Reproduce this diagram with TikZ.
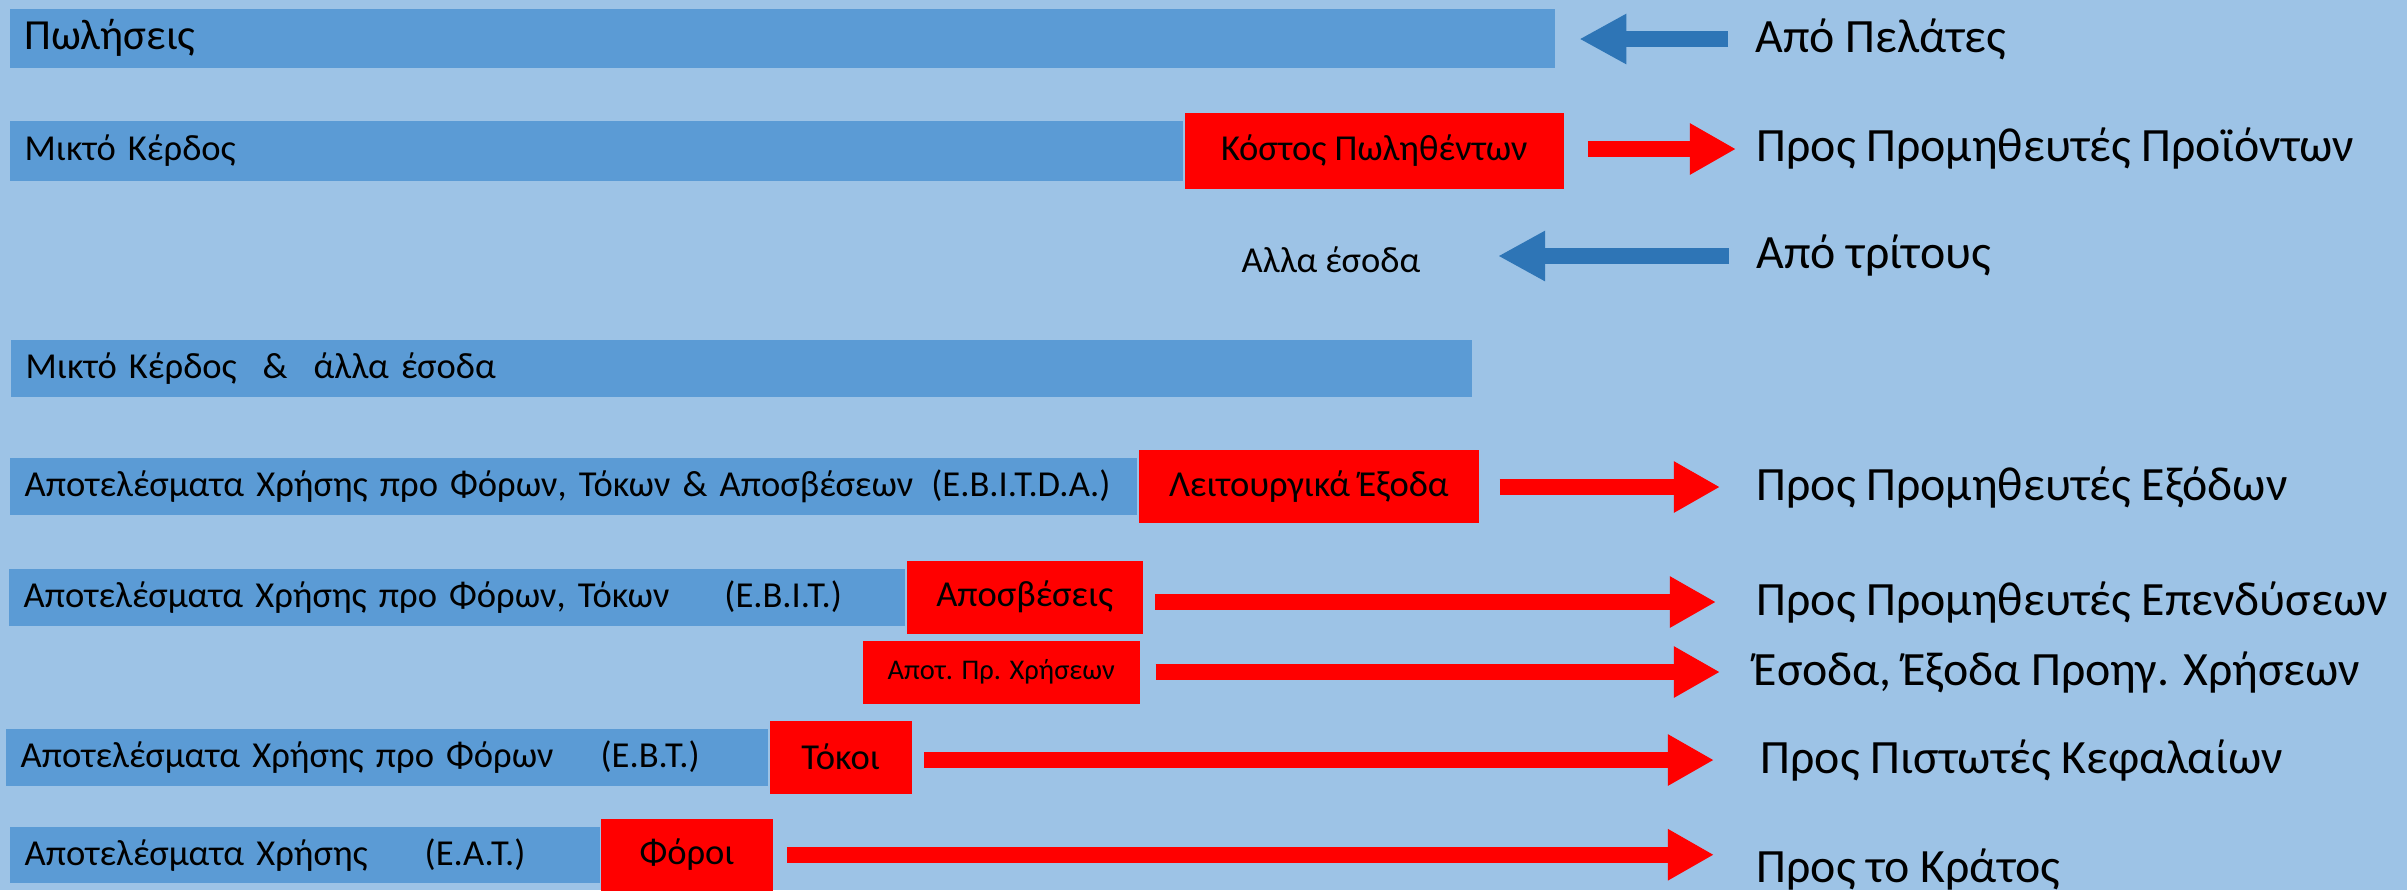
\documentclass[tikz,border=0pt]{standalone}
\usepackage{fontspec}
\setmainfont{Carlito}
\usetikzlibrary{positioning,arrows.meta}
\definecolor{bgblue}{HTML}{9DC3E6}
\definecolor{barblue}{HTML}{5B9BD5}
\definecolor{flowblue}{HTML}{2E75B6}

\begin{document}
\begin{tikzpicture}[x=0.01cm, y=-0.01cm,
    bar/.style={fill=barblue, anchor=north west, inner xsep=0.15cm, inner ysep=0pt,
      minimum height=0.57cm, align=left, font=\fontsize{10.4}{12}\selectfont},
    cost/.style={fill=red, inner sep=0pt, minimum height=0.73cm, align=center,
      font=\fontsize{10.4}{12}\selectfont},
    dest/.style={anchor=west, inner sep=0pt, font=\fontsize{13.6}{16}\selectfont},
    outflow/.style={red, line width=0.16cm, -{Triangle[length=0.46cm, width=0.48cm]},
      shorten <=0.13cm, shorten >=0.4cm},
    inflow/.style={flowblue, line width=0.16cm, -{Triangle[length=0.47cm, width=0.47cm]},
      shorten <=0.27cm}]
  \useasboundingbox (0,0) rectangle (2407,890);
  \fill[bgblue] (0,0) rectangle (2407,890);

  % sales and gross profit
  \node[bar, text width=15.14cm, minimum height=0.59cm, font=\fontsize{12.2}{14}\selectfont] (sales) at (9,8) {Πωλήσεις};
  \node[dest] (customers) at (1755,39) {Από Πελάτες};
  \draw[inflow, shorten >=0.24cm] (customers.west) -- (sales.east |- customers.west);

  \node[bar, text width=11.43cm, minimum height=0.60cm] (gross) at (9,120) {Μικτό Κέρδος};
  \node[cost, right=0pt of gross, minimum width=3.79cm, minimum height=0.76cm] (cogs) {Κόστος Πωληθέντων};
  \node[dest] (suppliers) at (1756,149) {Προς Προμηθευτές Προϊόντων};
  \draw[outflow, shorten <=0.23cm, shorten >=0.2cm] (cogs.east |- suppliers.west) -- (suppliers.west);

  % other income
  \node[inner sep=0pt, font=\fontsize{10.4}{12}\selectfont] (other) at (1331,260) {Αλλα έσοδα};
  \node[dest] (third) at (1756,256) {Από τρίτους};
  \draw[inflow, shorten >=0.77cm] (third.west) -- (other.east |- third.west);

  \node[bar, text width=14.30cm] (grossplus) at (10,339) {Μικτό Κέρδος\hspace{0.26cm}\&\hspace{0.26cm}άλλα έσοδα};

  % results and outflows
  \node[bar, text width=10.97cm] (ebitda) at (9,457) {Αποτελέσματα Χρήσης προ Φόρων, Τόκων \& Αποσβέσεων\hspace{0.18cm}(E.B.I.T.D.A.)};
  \node[cost, right=0pt of ebitda, minimum width=3.40cm] (opex) {Λειτουργικά Έξοδα};
  \node[dest] (expsup) at (1756,487) {Προς Προμηθευτές Εξόδων};
  \draw[outflow, shorten <=0.2cm, shorten >=0.36cm] (opex.east |- expsup.west) -- (expsup.west);

  \node[bar, text width=8.66cm] (ebit) at (8,568) {Αποτελέσματα Χρήσης προ Φόρων, Τόκων\hspace{0.55cm}(E.B.I.T.)};
  \node[cost, right=0pt of ebit, minimum width=2.36cm] (depr) {Αποσβέσεις};
  \node[dest] (invsup) at (1756,602) {Προς Προμηθευτές Επενδύσεων};
  \draw[outflow, shorten <=0.12cm] (depr.east |- invsup.west) -- (invsup.west);

  \node[cost, anchor=north west, minimum width=2.77cm, minimum height=0.63cm, font=\fontsize{8.1}{10}\selectfont] (prior) at (862,640) {Αποτ. Πρ. Χρήσεων};
  \node[dest] (priorres) at (1753,672) {Έσοδα, Έξοδα Προηγ. Χρήσεων};
  \draw[outflow, shorten <=0.15cm, shorten >=0.33cm] (prior.east |- priorres.west) -- (priorres.west);

  \node[bar, text width=7.32cm] (ebt) at (5,728) {Αποτελέσματα Χρήσης προ Φόρων\hspace{0.47cm}(E.B.T.)};
  \node[cost, right=0pt of ebt, minimum width=1.42cm] (interest) {Τόκοι};
  \node[dest] (lenders) at (1760,760) {Προς Πιστωτές Κεφαλαίων};
  \draw[outflow, shorten <=0.12cm, shorten >=0.46cm] (interest.east |- lenders.west) -- (lenders.west);

  \node[bar, text width=5.60cm, minimum height=0.56cm] (eat) at (9,826) {Αποτελέσματα Χρήσης\hspace{0.57cm}(E.A.T.)};
  \node[cost, right=0pt of eat, minimum width=1.71cm, minimum height=0.72cm] (taxes) {Φόροι};
  \node[dest] (state) at (1756,869) {Προς το Κράτος};
  \draw[outflow, shorten <=0.14cm, shorten >=0.42cm] (taxes.east) -- (taxes.east -| state.west);
\end{tikzpicture}
\end{document}
